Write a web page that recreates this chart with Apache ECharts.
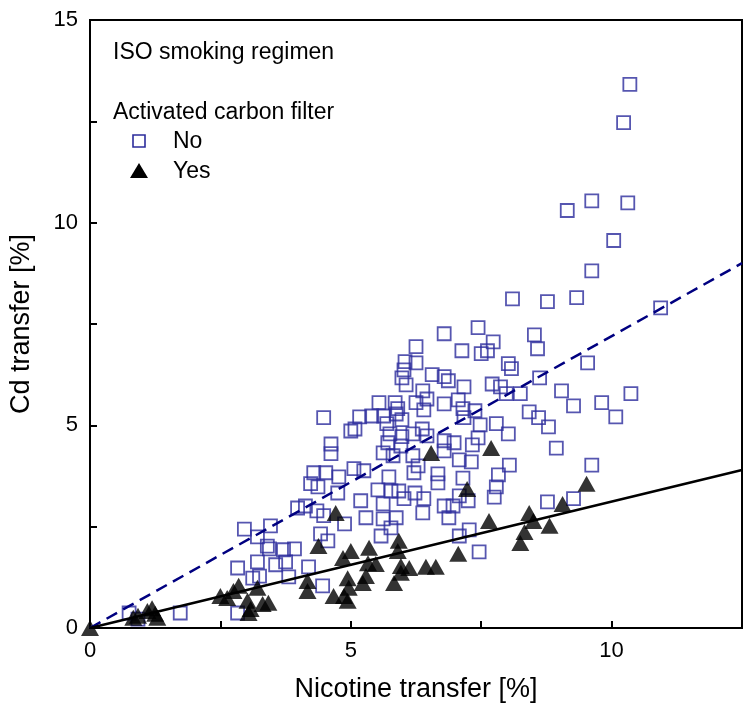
<!DOCTYPE html>
<html>
<head>
<meta charset="utf-8">
<script src="https://cdn.jsdelivr.net/npm/echarts@6/dist/echarts.min.js"></script>
<style>
html,body{margin:0;padding:0;background:#fff;}
#chart{width:750px;height:712px;}
</style>
</head>
<body>
<div id="chart"></div>
<script>
// Squares: no activated carbon filter [nicotine transfer %, Cd transfer %]
var noFilter = [
[10.35,13.41],[10.23,12.47],[10.31,10.49],[9.62,10.54],[9.15,10.30],[10.04,9.56],[9.62,8.81],
[8.10,8.12],[8.77,8.05],[9.33,8.15],[10.94,7.90],
[6.79,7.26],[7.44,7.41],[7.73,7.06],[7.13,6.84],[7.50,6.77],[7.62,6.84],[8.52,7.23],[8.58,6.89],
[8.02,6.52],[8.08,6.40],[6.79,6.20],[6.87,6.10],[7.17,5.95],[7.71,6.02],[7.87,5.95],[8.62,6.17],
[9.54,6.54],[8.25,5.78],[7.98,5.78],[9.04,5.85],[9.27,5.48],[9.81,5.56],[10.37,5.78],[10.08,5.21],
[7.06,5.63],[6.79,5.53],[7.15,5.41],[7.38,5.36],[8.42,5.33],[8.60,5.19],[8.79,4.96],[7.17,5.19],
[7.79,5.04],[7.48,5.01],[8.02,4.79],[6.79,4.62],[6.98,4.57],[7.33,4.52],[7.44,4.69],[8.94,4.44],
[6.79,4.37],[7.08,4.15],[7.31,4.10],[8.04,4.02],[7.83,3.78],[9.62,4.02],[7.15,3.70],
[7.79,3.48],[7.25,3.14],[7.08,3.26],[7.75,3.23],[6.79,3.01],[6.96,3.01],[6.88,2.72],[8.77,3.11],
[9.27,3.19],[7.08,2.27],[7.27,2.42],[7.46,1.88],
[4.62,4.54],[4.62,4.30],[4.29,3.83],[4.52,3.83],[4.23,3.56],[4.37,3.48],[4.77,3.73],[5.06,3.93],
[5.25,3.88],[4.75,3.33],[3.98,2.96],[4.13,3.01],[4.35,2.89],[4.48,2.77],[4.88,2.57],[4.42,2.32],
[4.56,2.15],[3.71,1.93],[3.92,1.95],[3.75,1.63],[4.19,1.51],[3.81,1.26],[4.46,1.04],[5.19,3.14],
[5.29,2.72],[5.52,3.41],[5.62,3.06],[5.62,2.69],[5.73,3.73],[5.77,3.38],[5.92,3.38],[5.87,2.72],
[5.58,2.27],[5.77,2.47],[6.02,3.19],[6.21,3.83],[6.29,4.00],[6.19,4.25],[5.62,4.32],[5.81,4.25],
[5.96,4.49],[6.40,3.19],[6.23,3.33],[6.38,2.84],[6.67,3.80],[6.67,3.58],[5.71,4.57],
[6.25,6.94],[6.04,6.57],[6.25,6.54],[6.02,6.37],[5.98,6.17],[6.06,6.00],[6.56,6.25],[6.38,5.85],
[5.54,5.56],[5.85,5.56],[5.90,5.41],[6.25,5.56],[6.46,5.65],[6.40,5.38],[4.48,5.19],[5.17,5.21],
[5.40,5.23],[5.63,5.23],[5.87,5.28],[5.98,5.14],[5.08,4.91],[5.00,4.86],[5.69,5.04],[5.75,4.79],
[5.98,4.72],[6.19,4.79],[6.37,4.91],[6.46,4.74],
[2.96,2.44],[3.21,2.25],[3.46,2.52],[3.40,2.02],[3.44,1.95],[3.21,1.63],[2.83,1.48],[3.12,1.23],
[3.25,1.28],[3.56,1.56],[0.75,0.37],[0.92,0.22],[1.73,0.37],[2.83,0.37]
];
// Triangles: with activated carbon filter
var withFilter = [
[0,0],[0.83,0.25],[0.92,0.30],[1.10,0.42],[1.19,0.49],[1.25,0.35],[1.29,0.25],[2.50,0.79],
[2.63,0.74],[2.85,1.04],[2.75,0.91],[3.02,0.67],[3.08,0.47],[3.21,0.99],[3.31,0.59],[3.42,0.62],
[3.04,0.37],[4.17,1.16],[4.17,0.91],[4.71,2.84],[4.38,2.02],[4.85,1.73],[5.00,1.90],[5.35,1.98],
[5.92,2.15],[5.90,1.90],[5.33,1.60],[5.48,1.58],[5.96,1.53],[6.12,1.48],[6.44,1.51],[6.63,1.51],
[7.06,1.83],[4.94,1.23],[4.96,0.99],[4.94,0.67],[4.67,0.79],[4.87,0.79],[5.29,1.28],[5.23,1.11],
[5.83,1.11],[5.96,1.36],[6.54,4.32],[7.69,4.44],[7.23,3.43],[9.52,3.56],[7.65,2.64],[8.42,2.84],
[8.50,2.64],[8.33,2.37],[8.25,2.10],[8.81,2.52],[9.06,3.06]
];
// Regression lines (through origin)
var fitX = [0, 12.5];
var fitNoY = [0, 9.0];
var fitYesY = [0, 3.9];

var xTicks = [0, 5, 10];
var yTicks = [0, 5, 10, 15];
var legendTitle = 'ISO smoking regimen';
var legendSub = 'Activated carbon filter';
var legendNames = ['No', 'Yes'];

var FONT = '"Liberation Sans", Arial, sans-serif';
var SQ = '#2c2c9c';

function pairs(xs, ys){ return xs.map(function(x,i){ return [x, ys[i]]; }); }

var chart = echarts.init(document.getElementById('chart'), null, {renderer:'canvas'});
chart.setOption({
  animation: false,
  backgroundColor: '#fff',
  grid: {left: 88, right: 8, top: 20, bottom: 84, show: true, borderColor: '#000', borderWidth: 2, backgroundColor: 'transparent'},
  xAxis: {
    type: 'value', min: 0, max: 12.5, interval: 2.5,
    name: 'Nicotine transfer [%]', nameLocation: 'middle', nameGap: 48,
    nameTextStyle: {fontFamily: FONT, fontSize: 27, color: '#000'},
    axisLine: {onZero: false, lineStyle: {color: '#000', width: 2}},
    axisTick: {inside: true, length: 7, lineStyle: {color: '#000', width: 2}},
    axisLabel: {fontFamily: FONT, fontSize: 22, color: '#000', margin: 12,
      formatter: function(v){ return xTicks.indexOf(v) >= 0 ? String(v) : ''; }},
    splitLine: {show: false}
  },
  yAxis: {
    type: 'value', min: 0, max: 15, interval: 2.5,
    name: 'Cd transfer [%]', nameLocation: 'middle', nameGap: 55, nameRotate: 90,
    nameTextStyle: {fontFamily: FONT, fontSize: 27, color: '#000'},
    axisLine: {onZero: false, lineStyle: {color: '#000', width: 2}},
    axisTick: {inside: true, length: 7, lineStyle: {color: '#000', width: 2}},
    axisLabel: {fontFamily: FONT, fontSize: 22, color: '#000', margin: 12,
      formatter: function(v){ return yTicks.indexOf(v) >= 0 ? String(v) : ''; }},
    splitLine: {show: false}
  },
  graphic: [
    {type: 'text', left: 113, top: 41, style: {text: legendTitle, font: '23px ' + FONT, fill: '#000'}},
    {type: 'text', left: 113, top: 101, style: {text: legendSub, font: '23px ' + FONT, fill: '#000'}},
    {type: 'rect', shape: {x: 133, y: 135, width: 12, height: 12}, style: {fill: 'none', stroke: SQ, lineWidth: 1.6}},
    {type: 'text', left: 173, top: 130, style: {text: legendNames[0], font: '23px ' + FONT, fill: '#000'}},
    {type: 'polygon', shape: {points: [[139, 163], [130, 178], [148, 178]]}, style: {fill: '#000'}},
    {type: 'text', left: 173, top: 160, style: {text: legendNames[1], font: '23px ' + FONT, fill: '#000'}}
  ],
  series: [
    {type: 'scatter', name: legendNames[0], data: noFilter, symbol: 'rect', symbolSize: 13,
     itemStyle: {color: 'rgba(0,0,0,0)', borderColor: SQ, borderWidth: 1.8}, z: 2},
    {type: 'scatter', name: legendNames[1], data: withFilter, symbol: 'triangle', symbolSize: [18, 16],
     itemStyle: {color: '#000'}, z: 3},
    {type: 'line', data: pairs(fitX, fitNoY), symbol: 'none', silent: true,
     lineStyle: {color: '#000080', width: 2.5, type: [12, 7]}, z: 4},
    {type: 'line', data: pairs(fitX, fitYesY), symbol: 'none', silent: true,
     lineStyle: {color: '#000', width: 2.5}, z: 4}
  ]
});
</script>
</body>
</html>
